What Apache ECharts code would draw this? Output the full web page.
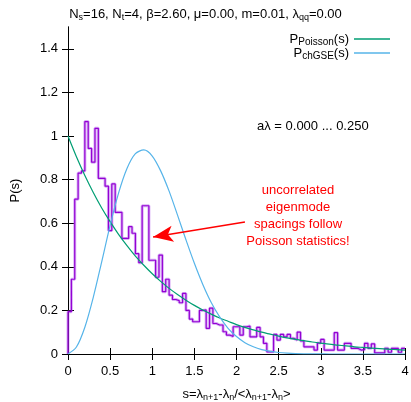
<!DOCTYPE html>
<html><head><meta charset="utf-8">
<script src="https://cdn.jsdelivr.net/npm/echarts@6/dist/echarts.min.js"></script>
<style>html,body{margin:0;padding:0;background:#fff}#c{width:411px;height:402px}</style>
</head><body><div id="c"></div>
<script>
// ---- data ----
const binWidth = 0.04;
const histValues = [
  0.194,0.343,0.71,0.83,0.84,1.066,0.943,0.88,1.035,0.806,
  0.806,0.77,0.566,0.78,0.65,0.65,0.53,0.53,0.584,0.554,
  0.46,0.419,0.68,0.68,0.43,0.43,0.352,0.454,0.286,0.343,
  0.27,0.25,0.245,0.235,0.278,0.2,0.16,0.148,0.148,0.2,
  0.202,0.118,0.21,0.14,0.133,0.133,0.102,0.087,0.08,0.125,
  0.125,0.087,0.125,0.128,0.079,0.079,0.122,0.079,0.049,0.01,
  0.01,0.09,0.064,0.09,0.079,0.09,0.072,0.064,0.1,0.06,
  0.033,0.033,0.033,0.018,0.05,0.067,0.018,0.018,0.018,0.098,
  0.018,0.018,0.049,0.049,0.026,0.026,0.018,0.02,0.049,0.026,
  0.046,0.005,0.005,0.005,0.026,0.008,0.026,0.026,0.008,0.026
];
const sSamples = [0,0.1,0.2,0.3,0.4,0.5,0.6,0.7,0.8,0.9,1.0,1.1,1.2,1.3,1.4,1.5,1.6,1.7,1.8,1.9,2.0,
  2.1,2.2,2.3,2.4,2.5,2.6,2.7,2.8,2.9,3.0,3.1,3.2,3.3,3.4,3.5,3.6,3.7,3.8,3.9,4.0];
const poissonValues = [1,0.905,0.819,0.741,0.670,0.607,0.549,0.497,0.449,0.407,0.368,0.333,0.301,0.273,0.247,0.223,
  0.202,0.183,0.165,0.150,0.135,0.122,0.111,0.100,0.091,0.082,0.074,0.067,0.061,0.055,0.050,0.045,0.041,0.037,
  0.033,0.030,0.027,0.025,0.022,0.020,0.018];
const chgseValues = [0,0.032,0.123,0.260,0.423,0.590,0.738,0.851,0.919,0.936,0.908,0.840,0.747,0.637,0.524,0.416,
  0.319,0.236,0.170,0.118,0.080,0.052,0.033,0.020,0.012,0.007,0.004,0.002,0.001,0.0006,0.0003,0,0,0,0,0,0,0,0,0,0];
const xTicks = [0,0.5,1,1.5,2,2.5,3,3.5,4];
const yTicks = [0,0.2,0.4,0.6,0.8,1,1.2,1.4];
const annotationLines = ['uncorrelated','eigenmode','spacings follow','Poisson statistics!'];
const arrowFrom = [2.1, 0.605];
const arrowTo = [1.01, 0.537];

// ---- build ----
const histData = [[0,0]];
histValues.forEach((v,i)=>histData.push([i*binWidth, v]));
histData.push([histValues.length*binWidth, histValues[histValues.length-1]]);
const poisData = sSamples.map((s,i)=>[s, poissonValues[i]]);
const gseData = sSamples.map((s,i)=>[s, chgseValues[i]]);

const FONT = 'Liberation Sans';
const subRich = {
  base: {fontFamily: FONT, fontSize: 13, color: '#000', lineHeight: 16, fontWeight: 'normal'},
  sub: {fontFamily: FONT, fontSize: 9, color: '#000', lineHeight: 16, fontWeight: 'normal', verticalAlign: 'bottom', padding: [5,0,0,0]}
};
const legRich = {
  base: {fontFamily: FONT, fontSize: 13, color: '#000', lineHeight: 16},
  sub: {fontFamily: FONT, fontSize: 10, color: '#000', lineHeight: 16, verticalAlign: 'bottom', padding: [5,0,0,0]}
};
const fmt = v => String(Math.round(v*10)/10);

const chart = echarts.init(document.getElementById('c'), null, {renderer: 'canvas'});
const axisLine = {show: true, lineStyle: {color: '#000', width: 1}};
const tick = {show: true, inside: true, length: 6, lineStyle: {color: '#000', width: 1}};
chart.setOption({
  animation: false,
  backgroundColor: '#fff',
  title: {
    text: '{base|N}{sub|s}{base|=16, N}{sub|t}{base|=4, β=2.60, μ=0.00, m=0.01, λ}{sub|qq}{base|=0.00}',
    left: 'center', top: 6, padding: 0,
    textStyle: {fontWeight: 'normal', rich: subRich}
  },
  grid: {left: 68, right: 6, top: 27, bottom: 48, containLabel: false, outerBoundsMode: 'none'},
  legend: {
    data: [{name: 'Poisson', icon: 'rect'}, {name: 'chGSE', icon: 'rect'}],
    orient: 'vertical', right: 21, top: 32, align: 'right',
    itemWidth: 36, itemHeight: 1.5, itemGap: -1, padding: 0,
    formatter: n => n === 'Poisson' ? '{base|P}{sub|Poisson}{base|(s)}' : '{base|P}{sub|chGSE}{base|(s)}',
    textStyle: {rich: legRich}
  },
  xAxis: [
    {type: 'value', min: 0, max: 4, interval: 0.5, position: 'bottom',
     axisLine, axisTick: tick, splitLine: {show: false},
     axisLabel: {color: '#000', fontFamily: FONT, fontSize: 13, margin: 11, formatter: fmt, customValues: xTicks},
     name: '{base|s=λ}{sub|n+1}{base|-λ}{sub|n}{base|/<λ}{sub|n+1}{base|-λ}{sub|n}{base|>}',
     nameLocation: 'middle', nameGap: 32, nameTextStyle: {rich: subRich}},
    {type: 'value', min: 0, max: 4, interval: 0.5, position: 'top',
     axisLine, axisTick: tick, axisLabel: {show: false}, splitLine: {show: false}}
  ],
  yAxis: [
    {type: 'value', min: 0, max: 1.5, position: 'left',
     axisLine, axisTick: Object.assign({customValues: yTicks}, tick), splitLine: {show: false},
     axisLabel: {color: '#000', fontFamily: FONT, fontSize: 13, margin: 10, formatter: fmt, customValues: yTicks},
     name: 'P(s)', nameLocation: 'middle', nameGap: 46, nameRotate: 90,
     nameTextStyle: {color: '#000', fontFamily: FONT, fontSize: 13}},
    {type: 'value', min: 0, max: 1.5, position: 'right',
     axisLine, axisTick: Object.assign({customValues: yTicks}, tick), axisLabel: {show: false}, splitLine: {show: false}}
  ],
  series: [
    {name: 'hist2', type: 'line', step: 'end', data: histData, symbol: 'none',
     lineStyle: {color: 'rgba(170,80,235,0.45)', width: 3}, z: 2},
    {name: 'hist', type: 'line', step: 'end', data: histData, symbol: 'none',
     lineStyle: {color: '#9400d3', width: 1.2}, z: 3,
     markLine: {silent: true, symbol: ['none','arrow'], symbolSize: [12,20],
       lineStyle: {color: '#ff0000', width: 1.5, type: 'solid'}, label: {show: false},
       data: [[{coord: arrowFrom}, {coord: arrowTo}]]}},
    {name: 'Poisson', type: 'line', data: poisData, symbol: 'none', smooth: 0.3,
     lineStyle: {color: '#009e73', width: 1.2}, itemStyle: {color: '#009e73'}, z: 4},
    {name: 'chGSE', type: 'line', data: gseData, symbol: 'none', smooth: 0.3,
     lineStyle: {color: '#56b4e9', width: 1.2}, itemStyle: {color: '#56b4e9'}, z: 4}
  ],
  graphic: [
    {type: 'text', x: 257, y: 120, style: {text: 'aλ = 0.000 ... 0.250', fill: '#000', font: '13px "Liberation Sans"'}},
    {type: 'text', x: 298, y: 182, style: {text: annotationLines.join('\n'), fill: '#ff0000', font: '13px "Liberation Sans"', align: 'center', lineHeight: 17}}
  ]
});
</script></body></html>
